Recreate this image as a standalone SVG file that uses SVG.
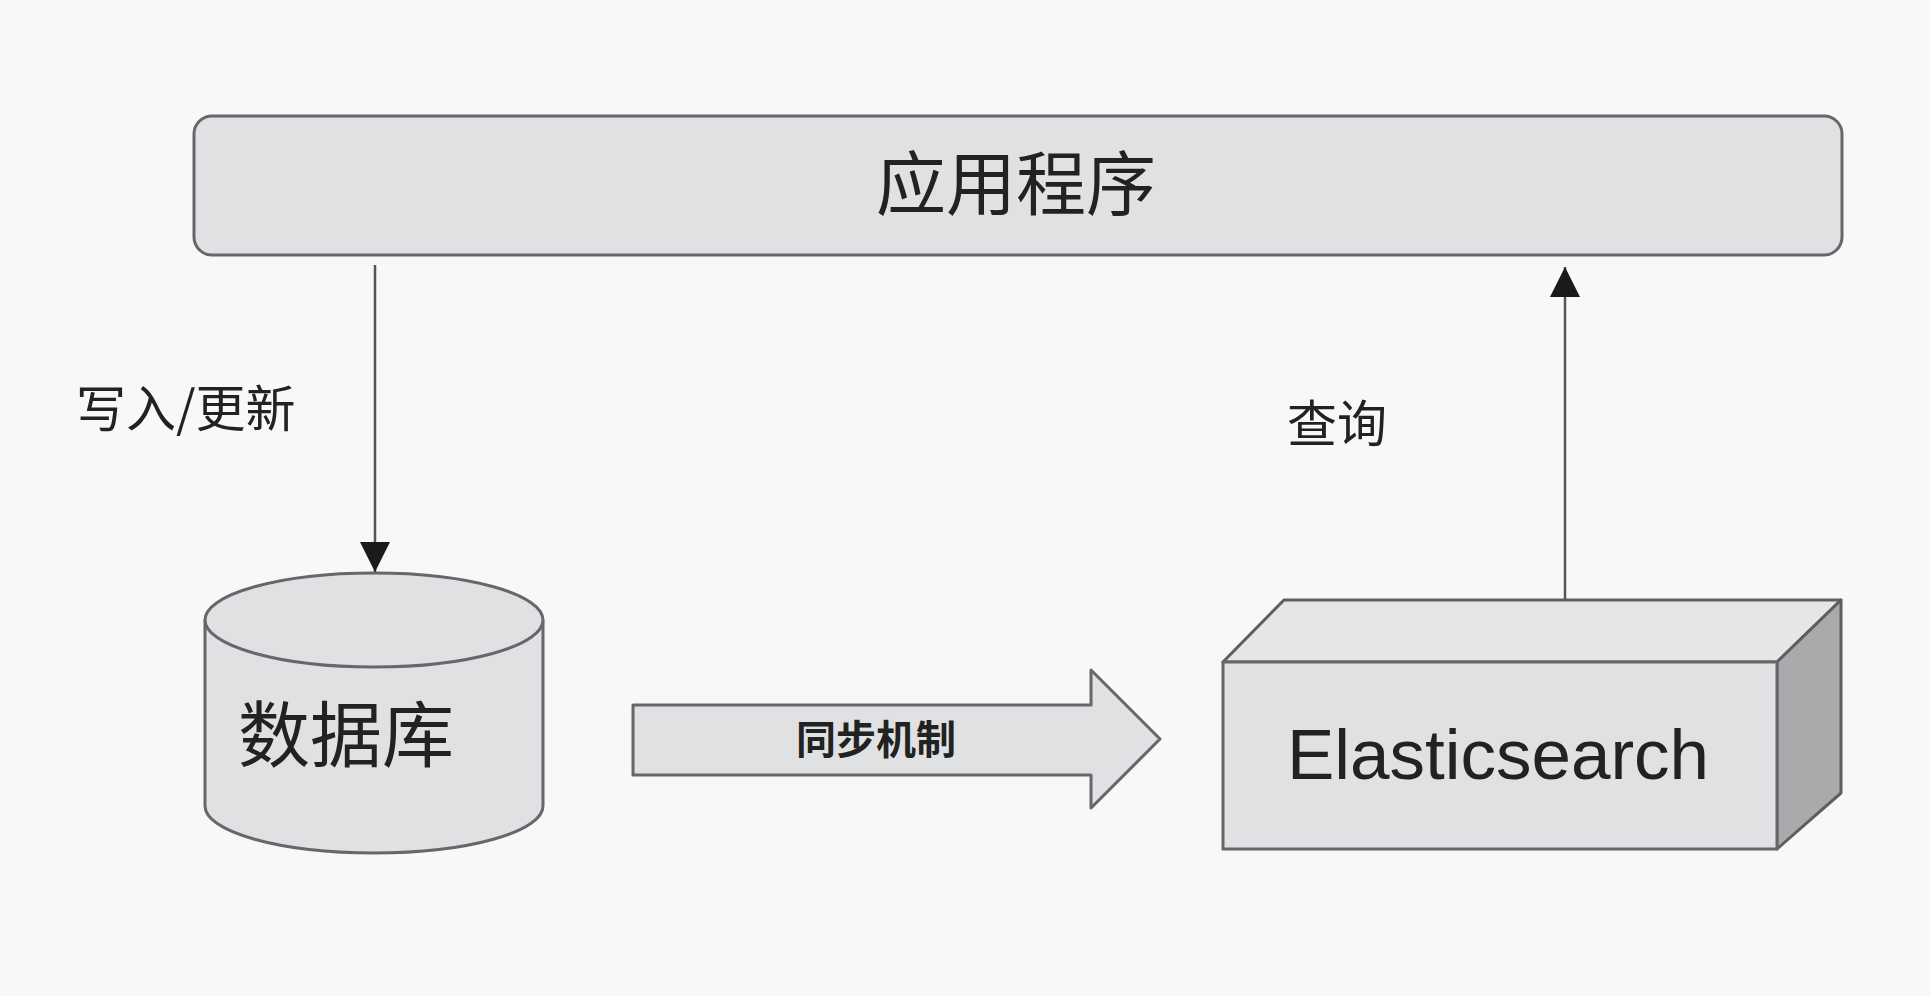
<svg xmlns="http://www.w3.org/2000/svg" width="1930" height="996" viewBox="0 0 1930 996">
<defs>
<style>
.shape{fill:#dfe1e3;stroke:#65676a;stroke-width:3;stroke-linejoin:round}
.top{fill:#e5e7e7;stroke:#5c5e60;stroke-width:3;stroke-linejoin:round}
.side{fill:#a8aaab;stroke:#5c5e60;stroke-width:3;stroke-linejoin:round}
.conn{stroke:#555;stroke-width:2.5;fill:none}
.cjk{font-family:"Noto Sans CJK SC","Noto Sans",sans-serif;fill:#222}
.lat{font-family:"Liberation Sans",Arial,sans-serif;fill:#222}
</style>
<marker id="ah" viewBox="0 0 30 30" refX="30" refY="15" markerWidth="30" markerHeight="30" markerUnits="userSpaceOnUse" orient="auto">
<path d="M0,0 L30,15 L0,30 Z" fill="#1a1a1a"/>
</marker>
</defs>
<rect width="1930" height="996" fill="#f8f8f8"/>

<g id="app">
<rect class="shape" x="194" y="116" width="1648" height="139" rx="18" ry="18"/>
<text class="cjk" x="1016" y="179" font-size="70" text-anchor="middle" dominant-baseline="central">应用程序</text>
</g>

<g id="db">
<path class="shape" d="M205,620 L205,806 A169,47 0 0 0 543,806 L543,620"/>
<ellipse class="shape" cx="374" cy="620" rx="169" ry="47"/>
<text class="cjk" x="346" y="729" font-size="72" text-anchor="middle" dominant-baseline="central">数据库</text>
</g>

<g id="sync">
<path class="shape" d="M633,705 L1091,705 L1091,670 L1160,739 L1091,808 L1091,775 L633,775 Z"/>
<text class="cjk" x="876" y="737" font-size="40" font-weight="bold" text-anchor="middle" dominant-baseline="central" fill="#333">同步机制</text>
</g>

<g id="es">
<polygon class="top" points="1223,662 1284,600 1841,600 1777,662"/>
<polygon class="side" points="1777,662 1841,600 1841,793 1777,849"/>
<rect class="shape" x="1223" y="662" width="554" height="187"/>
<text class="lat" x="1498" y="779" font-size="71" text-anchor="middle">Elasticsearch</text>
</g>

<g id="connectors">
<line class="conn" x1="375" y1="265" x2="375" y2="572" marker-end="url(#ah)"/>
<line class="conn" x1="1565" y1="600" x2="1565" y2="267" marker-end="url(#ah)"/>
</g>

<g id="labels">
<text class="cjk" x="76" y="405" font-size="50" dominant-baseline="central">写入/更新</text>
<text class="cjk" x="1287" y="420" font-size="50" dominant-baseline="central">查询</text>
</g>
</svg>
